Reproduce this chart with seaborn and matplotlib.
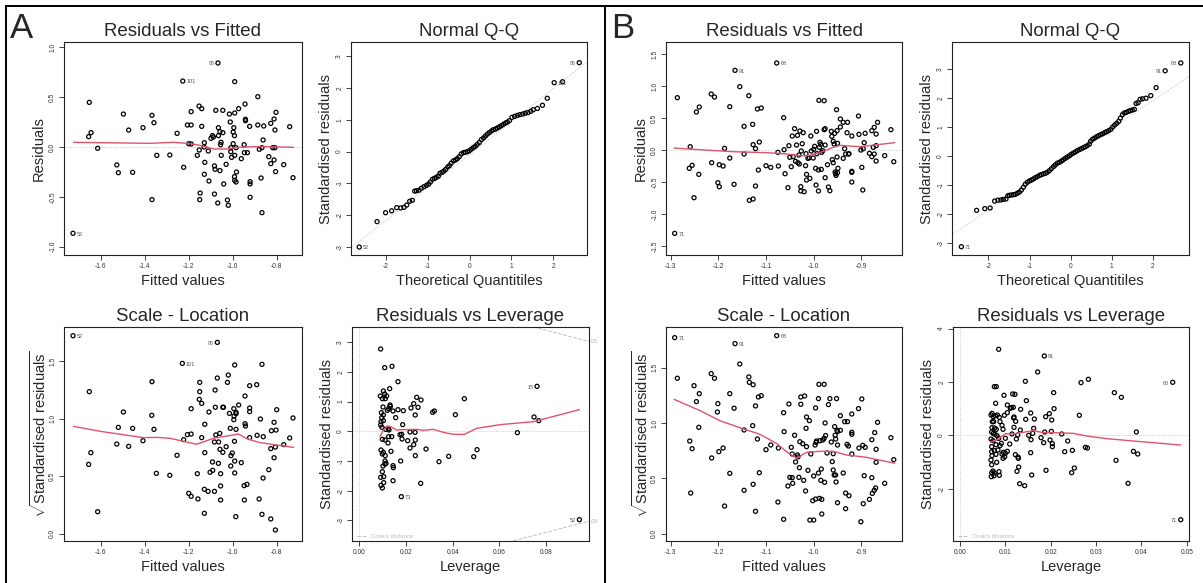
import matplotlib
matplotlib.use("Agg")
import matplotlib.pyplot as plt
import seaborn as sns
import pandas as pd
from matplotlib.lines import Line2D

# ---------------- Panel A ----------------
# Residuals vs Fitted (fitted, residual)
a_rvf = [(-1.726, -0.866), (-1.652, 0.448), (-1.655, 0.104), (-1.644, 0.144), (-1.614, -0.013),
         (-1.527, -0.18), (-1.52, -0.258), (-1.497, 0.331), (-1.473, 0.17), (-1.455, -0.254),
         (-1.408, 0.194), (-1.367, 0.318), (-1.358, 0.244), (-1.367, -0.528), (-1.345, -0.084),
         (-1.286, -0.08), (-1.253, 0.137), (-1.227, 0.662), (-1.223, -0.204), (-1.206, 0.221),
         (-1.189, 0.221), (-1.2, 0.033), (-1.189, 0.03), (-1.189, 0.355), (-1.153, 0.411),
         (-1.141, 0.385), (-1.141, 0.207), (-1.161, -0.084), (-1.152, -0.03), (-1.129, 0.043),
         (-1.13, 0.0), (-1.127, -0.154), (-1.129, -0.274), (-1.108, -0.341), (-1.111, -0.04),
         (-1.148, -0.462), (-1.15, -0.528), (-1.099, 0.087), (-1.092, 0.114), (-1.088, 0.1),
         (-1.083, -0.19), (-1.08, -0.224), (-1.083, -0.472), (-1.077, 0.368), (-1.067, 0.843),
         (-1.065, 0.194), (-1.065, 0.114), (-1.058, 0.154), (-1.053, 0.047), (-1.055, 0.023),
         (-1.058, -0.237), (-1.052, -0.084), (-1.068, -0.562), (-1.045, 0.368), (-1.045, 0.144),
         (-1.041, -0.371), (-1.03, -0.174), (-1.024, -0.532), (-1.02, -0.585), (-1.015, 0.331),
         (-1.011, 0.251), (-1.008, -0.007), (-1.009, -0.047), (-1.005, -0.104), (-0.998, 0.033),
         (-0.995, 0.194), (-0.998, 0.15), (-0.992, 0.114), (-0.991, 0.656), (-0.991, 0.341),
         (-0.991, -0.084), (-0.992, -0.298), (-0.991, -0.334), (-0.985, -0.351), (-0.985, -0.007),
         (-0.983, -0.251), (-0.973, 0.385), (-0.961, -0.117), (-0.944, 0.431), (-0.942, 0.278),
         (-0.942, 0.264), (-0.948, 0.023), (-0.947, -0.057), (-0.933, -0.057), (-0.923, 0.207),
         (-0.921, -0.348), (-0.921, -0.371), (-0.921, -0.505), (-0.886, 0.505), (-0.886, 0.221),
         (-0.879, -0.023), (-0.871, -0.311), (-0.867, -0.659), (-0.862, 0.07), (-0.859, 0.211),
         (-0.867, -0.007), (-0.836, -0.097), (-0.827, -0.167), (-0.827, 0.237), (-0.812, 0.281),
         (-0.812, -0.13), (-0.808, -0.007), (-0.818, -0.007), (-0.808, 0.171), (-0.803, 0.348),
         (-0.805, -0.247), (-0.768, -0.177), (-0.741, 0.204), (-0.726, -0.308)]
a_rvf_smooth = [(-1.724, 0.047), (-1.376, 0.037), (-1.27, 0.047), (-1.209, 0.037), (-1.148, 0.017),
                (-1.088, -0.02), (-1.027, -0.02), (-0.967, -0.003), (-0.906, 0.003), (-0.845, 0.003),
                (-0.724, -0.003)]
a_rvf_labels = [("52", -1.726, -0.866, "r"), ("101", -1.227, 0.662, "r"), ("95", -1.067, 0.843, "l")]

# Normal Q-Q (theoretical, standardised residual)
a_qq = [(-2.64, -3.0), (-2.215, -2.2), (-2.01, -1.92), (-1.865, -1.86), (-1.745, -1.76), (-1.65, -1.77),
        (-1.57, -1.75), (-1.506, -1.68), (-1.434, -1.56), (-1.37, -1.53), (-1.315, -1.24), (-1.27, -1.23),
        (-1.21, -1.21), (-1.155, -1.15), (-1.09, -1.10), (-1.035, -1.06), (-0.98, -1.02), (-0.94, -0.955),
        (-0.89, -0.87), (-0.845, -0.84), (-0.8, -0.81), (-0.75, -0.77), (-0.71, -0.68), (-0.66, -0.65),
        (-0.62, -0.61), (-0.575, -0.56), (-0.525, -0.48), (-0.485, -0.44), (-0.44, -0.36), (-0.39, -0.29),
        (-0.34, -0.26), (-0.295, -0.22), (-0.25, -0.16), (-0.2, -0.07), (-0.15, -0.03), (-0.105, -0.02),
        (-0.055, 0.0), (-0.01, 0.03), (0.04, 0.08), (0.09, 0.13), (0.135, 0.17), (0.18, 0.23), (0.23, 0.29),
        (0.28, 0.38), (0.33, 0.43), (0.375, 0.49), (0.42, 0.55), (0.47, 0.6), (0.52, 0.65), (0.565, 0.69),
        (0.615, 0.71), (0.66, 0.745), (0.71, 0.78), (0.76, 0.82), (0.805, 0.86), (0.855, 0.9), (0.9, 0.93),
        (0.95, 0.975), (1.01, 1.08), (1.075, 1.11), (1.14, 1.14), (1.2, 1.165), (1.27, 1.185), (1.33, 1.21),
        (1.395, 1.23), (1.46, 1.27), (1.52, 1.32), (1.62, 1.36), (1.74, 1.46), (1.855, 1.68), (2.02, 2.17),
        (2.22, 2.2), (2.62, 2.8)]
a_qq_line = [(-2.85, -3.04), (2.81, 2.83)]
a_qq_labels = [("52", -2.64, -3.0, "r"), ("101", 2.02, 2.17, "r"), ("95", 2.62, 2.8, "l")]

# Scale - Location (fitted, sqrt|std resid|)
a_sl = [(-1.726, 1.723), (-1.652, 1.236), (-1.655, 0.603), (-1.645, 0.705), (-1.614, 0.191), (-1.527, 0.78),
        (-1.52, 0.925), (-1.497, 1.059), (-1.473, 0.76), (-1.455, 0.917), (-1.408, 0.809), (-1.367, 1.323),
        (-1.368, 1.03), (-1.358, 0.908), (-1.347, 0.525), (-1.286, 0.508), (-1.253, 0.682), (-1.229, 1.482),
        (-1.223, 0.818), (-1.206, 0.862), (-1.189, 0.867), (-1.2, 0.351), (-1.189, 0.325), (-1.189, 1.088),
        (-1.15, 1.317), (-1.15, 1.236), (-1.152, 1.169), (-1.141, 1.134), (-1.141, 0.836), (-1.161, 0.522),
        (-1.158, 0.302), (-1.127, 0.952), (-1.127, 0.705), (-1.129, 0.386), (-1.129, 0.177), (-1.112, 0.368),
        (-1.108, 1.059), (-1.103, 0.534), (-1.092, 0.624), (-1.091, 0.551), (-1.083, 0.798), (-1.08, 1.25),
        (-1.083, 0.368), (-1.077, 0.859), (-1.079, 1.1), (-1.07, 1.665), (-1.07, 1.355), (-1.065, 0.612),
        (-1.064, 0.798), (-1.059, 0.873), (-1.058, 0.734), (-1.055, 0.522), (-1.055, 0.415), (-1.055, 0.293),
        (-1.045, 1.1), (-1.042, 1.1), (-1.045, 0.708), (-1.03, 0.757), (-1.024, 1.317), (-1.02, 1.381),
        (-1.015, 1.047), (-1.011, 0.917), (-1.008, 0.679), (-1.009, 0.589), (-1.002, 0.702), (-0.995, 1.088),
        (-0.995, 0.992), (-0.994, 1.024), (-0.992, 0.804), (-0.991, 1.468), (-0.991, 0.528), (-0.991, 0.632),
        (-0.985, 1.056), (-0.985, 1.044), (-0.985, 0.908), (-0.986, 0.148), (-0.973, 1.12), (-0.961, 0.618),
        (-0.944, 1.198), (-0.944, 0.957), (-0.942, 0.937), (-0.948, 0.418), (-0.935, 0.429), (-0.947, 0.293),
        (-0.923, 1.094), (-0.923, 1.062), (-0.923, 1.288), (-0.923, 0.836), (-0.891, 1.297), (-0.889, 0.856),
        (-0.88, 0.302), (-0.874, 0.998), (-0.867, 1.474), (-0.867, 0.168), (-0.861, 0.844), (-0.862, 0.484),
        (-0.836, 0.557), (-0.827, 0.74), (-0.827, 0.128), (-0.824, 0.896), (-0.812, 0.969), (-0.812, 0.661),
        (-0.806, 0.754), (-0.803, 0.902), (-0.8, 1.079), (-0.806, 0.032), (-0.768, 0.775), (-0.741, 0.833),
        (-0.726, 1.007)]
a_sl_smooth = [(-1.724, 0.934), (-1.603, 0.891), (-1.406, 0.836), (-1.345, 0.838), (-1.285, 0.83),
               (-1.164, 0.778), (-1.088, 0.83), (-0.974, 0.867), (-0.936, 0.827), (-0.876, 0.792),
               (-0.724, 0.751)]
a_sl_labels = [("52", -1.726, 1.723, "r"), ("101", -1.229, 1.482, "r"), ("95", -1.07, 1.665, "l")]

# Residuals vs Leverage (leverage, std resid)
a_rvl = [(0.00914, 2.775), (0.01086, 2.146), (0.014, 2.191), (0.01657, 1.674), (0.009, 1.191), (0.0103, 1.36),
         (0.01086, 1.258), (0.0117, 1.191), (0.00986, 1.101), (0.0111, 1.101), (0.013, 1.438), (0.01014, 0.82),
         (0.01257, 0.764), (0.01314, 0.888), (0.01329, 0.843), (0.01443, 0.685), (0.012, 0.708), (0.00943, 0.629),
         (0.0103, 0.551), (0.00957, 0.461), (0.00929, 0.326), (0.0103, 0.36), (0.00914, 0.213), (0.00971, 0.135),
         (0.01129, 0.067), (0.01243, 0.09), (0.01271, 0.045), (0.00986, -0.27), (0.011, -0.292), (0.01257, -0.18),
         (0.01386, -0.18), (0.01229, -0.393), (0.00929, -0.629), (0.0103, -0.708), (0.00986, -0.764),
         (0.0111, -0.82), (0.01357, -0.674), (0.011, -1.0), (0.011, -1.101), (0.01014, -1.169), (0.01143, -1.079),
         (0.01443, -1.157), (0.01457, -1.225), (0.00986, -1.36), (0.01043, -1.528), (0.00914, -1.551),
         (0.01043, -1.73), (0.00929, -1.82), (0.00986, -1.91), (0.01443, -1.663), (0.01557, 0.461),
         (0.01657, 0.73), (0.01886, 0.697), (0.01857, 0.225), (0.01814, -0.101), (0.01743, -0.112),
         (0.01829, -0.258), (0.01771, -1.0), (0.018, -2.202), (0.02071, -0.315), (0.02171, -0.022),
         (0.02171, -0.562), (0.02214, 0.787), (0.02329, 0.933), (0.02386, -0.034), (0.02329, -0.449),
         (0.02394, 0.551), (0.02457, 1.146), (0.02514, 0.809), (0.024, -0.292), (0.024, -0.82), (0.02643, 1.056),
         (0.02629, -1.753), (0.02857, -0.596), (0.03143, 0.64), (0.03214, 0.685), (0.03414, -1.022),
         (0.03829, -0.843), (0.04114, 0.562), (0.045, 1.101), (0.049, -0.854), (0.05043, -0.618),
         (0.06771, -0.045), (0.07486, 0.483), (0.07614, 1.517), (0.07686, 0.36), (0.09429, -2.978)]
a_rvl_smooth = [(0.00886, -0.18), (0.0103, 0.045), (0.012, 0.18), (0.0134, 0.157), (0.016, 0.045),
                (0.01886, 0.056), (0.02457, 0.067), (0.02743, 0.034), (0.03171, 0.067), (0.036, -0.034),
                (0.04029, -0.101), (0.045, -0.101), (0.05029, 0.101), (0.06029, 0.225), (0.07457, 0.326),
                (0.09429, 0.73)]
a_cook_upper = [(0.0745, 3.52), (0.0984, 3.03)]
a_cook_lower = [(0.066, -3.69), (0.0984, -3.03)]
a_rvl_labels = [("15", 0.07614, 1.517, "l"), ("73", 0.018, -2.202, "r"), ("52", 0.09429, -2.978, "l")]

# ---------------- Panel B ----------------
b_rvf = [(-1.2916, -1.297), (-1.286, 0.823), (-1.259, 0.057), (-1.261, -0.281), (-1.255, -0.234), (-1.251, -0.74),
         (-1.246, 0.599), (-1.24, 0.677), (-1.241, -0.375), (-1.215, 0.88), (-1.208, 0.833), (-1.214, -0.193),
         (-1.201, -0.505), (-1.198, -0.568), (-1.198, -0.224), (-1.19, -0.245), (-1.187, 0.031), (-1.176, 0.682),
         (-1.176, -0.12), (-1.167, -0.531), (-1.165, 1.25), (-1.155, 0.995), (-1.146, 0.375), (-1.146, -0.057),
         (-1.136, 0.854), (-1.135, -0.781), (-1.128, 0.406), (-1.127, -0.76), (-1.127, 0.089), (-1.122, 0.026),
         (-1.122, -0.557), (-1.118, 0.646), (-1.116, -0.307), (-1.114, 0.13), (-1.11, 0.661), (-1.1, -0.24),
         (-1.09, -0.266), (-1.0776, 1.365), (-1.075, -0.031), (-1.074, -0.245), (-1.063, 0.51), (-1.062, 0.01),
         (-1.06, -0.365), (-1.054, -0.583), (-1.052, 0.073), (-1.05, -0.109), (-1.047, -0.255), (-1.045, 0.224),
         (-1.043, -0.099), (-1.04, 0.339), (-1.038, -0.172), (-1.036, 0.083), (-1.034, 0.234), (-1.033, -0.193),
         (-1.031, -0.073), (-1.03, -0.214), (-1.029, 0.302), (-1.027, -0.568), (-1.027, -0.635), (-1.026, -0.01),
         (-1.024, 0.104), (-1.022, 0.276), (-1.02, -0.646), (-1.017, -0.24), (-1.016, -0.052), (-1.015, -0.375),
         (-1.015, -0.464), (-1.012, -0.125), (-1.009, -0.115), (-1.008, -0.438), (-1.006, 0.224), (-1.005, -0.01),
         (-1.001, -0.12), (-1.0, 0.016), (-0.998, 0.063), (-0.996, -0.281), (-0.995, -0.542), (-0.994, 0.297),
         (-0.993, -0.052), (-0.99, -0.307), (-0.99, -0.635), (-0.989, 0.781), (-0.988, 0.047), (-0.987, 0.125),
         (-0.985, 0.094), (-0.984, -0.297), (-0.983, -0.031), (-0.981, -0.005), (-0.978, 0.776), (-0.978, 0.323),
         (-0.976, 0.339), (-0.976, 0.083), (-0.976, -0.427), (-0.971, -0.224), (-0.969, -0.573), (-0.966, -0.63),
         (-0.963, 0.297), (-0.962, 0.219), (-0.961, -0.146), (-0.959, -0.193), (-0.959, 0.141), (-0.957, 0.099),
         (-0.956, 0.266), (-0.955, -0.339), (-0.954, -0.365), (-0.953, -0.391), (-0.952, 0.635), (-0.951, 0.307),
         (-0.951, -0.104), (-0.95, 0.109), (-0.95, -0.349), (-0.949, -0.281), (-0.944, 0.365), (-0.944, 0.49),
         (-0.938, -0.125), (-0.938, 0.438), (-0.935, 0.026), (-0.933, -0.057), (-0.93, 0.276), (-0.929, 0.438),
         (-0.927, -0.057), (-0.926, -0.052), (-0.92, 0.224), (-0.92, -0.328), (-0.92, -0.344), (-0.92, -0.495),
         (-0.906, 0.536), (-0.905, 0.25), (-0.901, 0.005), (-0.899, -0.266), (-0.897, -0.62), (-0.896, 0.026),
         (-0.894, 0.12), (-0.892, 0.266), (-0.883, -0.047), (-0.878, 0.307), (-0.878, -0.099), (-0.875, 0.047),
         (-0.873, -0.057), (-0.873, 0.359), (-0.869, 0.255), (-0.869, 0.073), (-0.869, -0.167), (-0.866, 0.438),
         (-0.851, -0.083), (-0.838, 0.323), (-0.832, -0.177)]
b_rvf_smooth = [(-1.293, 0.036), (-1.238, 0.01), (-1.169, -0.021), (-1.099, -0.036), (-1.057, -0.057),
                (-1.029, -0.083), (-1.011, -0.083), (-0.987, -0.036), (-0.959, 0.047), (-0.945, 0.078),
                (-0.903, 0.057), (-0.83, 0.12)]
b_rvf_labels = [("71", -1.2916, -1.297, "r"), ("91", -1.165, 1.25, "r"), ("68", -1.0776, 1.365, "r")]

b_qq = [(-2.66, -3.14), (-2.29, -1.88), (-2.09, -1.82), (-1.96, -1.8), (-1.85, -1.56), (-1.77, -1.53), (-1.70, -1.52),
        (-1.64, -1.5), (-1.575, -1.49), (-1.53, -1.38), (-1.49, -1.36), (-1.445, -1.35), (-1.395, -1.34),
        (-1.35, -1.33), (-1.30, -1.29), (-1.25, -1.25), (-1.2, -1.18), (-1.15, -1.08), (-1.105, -0.98),
        (-1.055, -0.91), (-1.005, -0.865), (-0.955, -0.83), (-0.91, -0.795), (-0.86, -0.75), (-0.81, -0.715),
        (-0.76, -0.67), (-0.715, -0.645), (-0.665, -0.62), (-0.615, -0.6), (-0.57, -0.565), (-0.52, -0.51),
        (-0.47, -0.44), (-0.42, -0.37), (-0.375, -0.31), (-0.325, -0.25), (-0.275, -0.22), (-0.225, -0.175),
        (-0.18, -0.13), (-0.13, -0.08), (-0.08, -0.035), (-0.03, 0.01), (0.015, 0.06), (0.065, 0.1),
        (0.115, 0.14), (0.16, 0.185), (0.21, 0.22), (0.26, 0.255), (0.31, 0.29), (0.355, 0.32), (0.405, 0.36),
        (0.455, 0.415), (0.485, 0.51), (0.535, 0.58), (0.585, 0.62), (0.635, 0.67), (0.68, 0.705), (0.73, 0.74),
        (0.78, 0.77), (0.83, 0.81), (0.875, 0.84), (0.925, 0.875), (0.975, 0.92), (1.02, 1.0), (1.07, 1.07),
        (1.12, 1.13), (1.17, 1.2), (1.21, 1.31), (1.26, 1.43), (1.305, 1.49), (1.355, 1.51), (1.405, 1.545),
        (1.45, 1.57), (1.5, 1.59), (1.55, 1.615), (1.59, 1.82), (1.64, 1.845), (1.69, 1.96), (1.75, 1.98),
        (1.835, 2.0), (1.95, 2.09), (2.08, 2.365), (2.3, 2.95), (2.68, 3.22)]
b_qq_line = [(-2.9, -2.73), (2.88, 2.75)]
b_qq_labels = [("71", -2.66, -3.14, "r"), ("91", 2.3, 2.95, "l"), ("68", 2.68, 3.22, "l")]

b_sl = [(-1.2916, 1.771), (-1.286, 1.404), (-1.26, 0.837), (-1.255, 0.768), (-1.258, 0.367), (-1.251, 1.337),
        (-1.246, 1.193), (-1.24, 1.265), (-1.241, 0.961), (-1.215, 1.446), (-1.208, 1.404), (-1.214, 0.684),
        (-1.201, 1.175), (-1.202, 1.099), (-1.199, 0.741), (-1.19, 0.774), (-1.187, 0.25), (-1.176, 1.265),
        (-1.176, 0.545), (-1.167, 1.133), (-1.165, 1.717), (-1.155, 1.533), (-1.146, 0.937), (-1.146, 0.392),
        (-1.136, 1.416), (-1.135, 1.367), (-1.128, 0.976), (-1.127, 1.346), (-1.127, 0.446), (-1.122, 0.202),
        (-1.122, 1.154), (-1.118, 0.855), (-1.116, 1.235), (-1.114, 0.551), (-1.11, 1.247), (-1.1, 0.759),
        (-1.09, 0.801), (-1.0776, 1.789), (-1.075, 0.286), (-1.074, 0.774), (-1.063, 1.093), (-1.063, 0.13),
        (-1.062, 0.922), (-1.054, 0.431), (-1.052, 1.172), (-1.05, 0.509), (-1.047, 0.78), (-1.045, 0.506),
        (-1.044, 0.455), (-1.045, 0.72), (-1.04, 0.889), (-1.038, 0.648), (-1.034, 0.711), (-1.033, 0.693),
        (-1.03, 0.596), (-1.031, 0.509), (-1.029, 0.831), (-1.027, 1.235), (-1.027, 1.169), (-1.023, 0.813),
        (-1.021, 0.482), (-1.019, 1.244), (-1.017, 0.386), (-1.016, 0.952), (-1.015, 0.786), (-1.015, 1.054),
        (-1.012, 0.572), (-1.009, 1.021), (-1.008, 0.123), (-1.006, 0.72), (-1.002, 0.298), (-1.0, 0.123),
        (-1.0, 0.521), (-0.997, 0.801), (-0.996, 1.136), (-0.996, 0.313), (-0.995, 0.825), (-0.994, 0.837),
        (-0.99, 1.22), (-0.99, 0.548), (-0.989, 1.349), (-0.988, 0.319), (-0.987, 0.84), (-0.985, 0.482),
        (-0.984, 0.584), (-0.983, 0.31), (-0.983, 0.178), (-0.981, 0.846), (-0.978, 1.349), (-0.978, 0.861),
        (-0.977, 0.464), (-0.976, 1.0), (-0.975, 0.886), (-0.972, 0.729), (-0.969, 1.166), (-0.966, 1.22),
        (-0.963, 0.828), (-0.961, 0.651), (-0.959, 0.723), (-0.959, 0.575), (-0.957, 0.53), (-0.956, 0.967),
        (-0.955, 0.889), (-0.954, 0.855), (-0.954, 0.53), (-0.953, 0.467), (-0.952, 1.22), (-0.951, 0.934),
        (-0.95, 0.28), (-0.95, 0.801), (-0.95, 0.922), (-0.944, 1.066), (-0.944, 0.934), (-0.938, 0.548),
        (-0.935, 1.012), (-0.933, 0.367), (-0.933, 0.226), (-0.93, 0.807), (-0.929, 1.012), (-0.927, 0.792),
        (-0.926, 0.343), (-0.92, 1.081), (-0.92, 0.916), (-0.92, 0.898), (-0.92, 0.72), (-0.906, 1.13),
        (-0.905, 0.774), (-0.901, 0.108), (-0.899, 1.217), (-0.897, 0.798), (-0.896, 0.271), (-0.894, 0.524),
        (-0.892, 0.78), (-0.883, 0.31), (-0.878, 0.849), (-0.878, 0.506), (-0.877, 0.364), (-0.873, 0.392),
        (-0.872, 0.913), (-0.87, 0.413), (-0.869, 0.762), (-0.869, 0.645), (-0.866, 1.006), (-0.851, 0.455),
        (-0.838, 0.867), (-0.832, 0.669)]
b_sl_smooth = [(-1.293, 1.214), (-1.238, 1.111), (-1.197, 1.021), (-1.155, 0.958), (-1.113, 0.898),
               (-1.078, 0.816), (-1.057, 0.741), (-1.036, 0.681), (-1.015, 0.735), (-0.987, 0.744),
               (-0.959, 0.744), (-0.931, 0.711), (-0.889, 0.69), (-0.83, 0.636)]
b_sl_labels = [("71", -1.2916, 1.771, "r"), ("91", -1.165, 1.717, "r"), ("68", -1.0776, 1.789, "r")]

b_rvl = [(0.00853, 3.225), (0.00801, 1.825), (0.00757, 1.825), (0.00787, 1.2), (0.00684, 0.7625), (0.00706, 0.825),
         (0.00735, 0.7), (0.00779, 0.7375), (0.00824, 0.7625), (0.00868, 0.675), (0.00713, 0.5125),
         (0.00743, 0.5125), (0.00882, 0.5125), (0.00706, 0.2875), (0.00765, 0.275), (0.00801, 0.225),
         (0.00926, 0.375), (0.00949, 0.225), (0.00699, 0.125), (0.00735, 0.075), (0.00772, 0.0375),
         (0.00816, -0.0125), (0.00853, -0.1125), (0.00684, -0.1375), (0.00728, -0.2), (0.00794, -0.35),
         (0.00699, -0.425), (0.00882, -0.3875), (0.00912, -0.3), (0.00757, -0.575), (0.00838, -0.55),
         (0.00699, -0.6125), (0.00794, -0.7125), (0.00706, -0.7625), (0.00956, -0.6375), (0.00926, -0.7),
         (0.01, -0.675), (0.01044, -0.6), (0.00949, -0.8625), (0.00985, -0.8), (0.00684, -0.925), (0.00809, -1.0125),
         (0.00699, -1.1), (0.00728, -1.3375), (0.00699, -1.4), (0.00757, -1.4125), (0.00691, -1.55),
         (0.0075, -1.5125), (0.0086, -1.3625), (0.00868, -1.5), (0.00971, 1.5), (0.01044, 1.1375),
         (0.01132, 1.0375), (0.01176, 1.05), (0.0111, 1.0125), (0.01044, 0.85), (0.00978, 0.75), (0.01, -0.1125),
         (0.01096, -0.325), (0.01184, 0.65), (0.01191, 0.6875), (0.01228, 0.525), (0.01162, 1.55),
         (0.01213, 1.5375), (0.01191, 0.3), (0.01243, -0.1375), (0.01147, 0.05), (0.01221, -0.725),
         (0.01279, -0.8125), (0.01287, -0.8625), (0.01257, -1.35), (0.01294, -1.1875), (0.01272, 0.0125),
         (0.01331, 0.2), (0.01338, 0.975), (0.01316, -1.8125), (0.01426, -1.8875), (0.01441, 2.025), (0.01463, 1.3),
         (0.01449, 0.6), (0.01515, 0.0), (0.01559, 0.8375), (0.01566, -0.1625), (0.01559, -0.65),
         (0.01581, -1.4875), (0.01603, 0.075), (0.01625, 0.2625), (0.0164, 0.6125), (0.01713, 2.375),
         (0.01787, -0.0875), (0.01846, -0.275), (0.0186, 2.975), (0.01868, 0.125), (0.0189, 0.7),
         (0.01897, -1.3125), (0.01971, 0.8125), (0.01985, -0.175), (0.02015, 0.15), (0.02022, 0.575),
         (0.02037, -0.3125), (0.02037, -0.425), (0.02066, 1.6), (0.02074, 1.0), (0.02243, 0.05), (0.02309, -0.6125),
         (0.02375, -0.2125), (0.02463, -1.4), (0.02478, -0.5625), (0.02522, -1.225), (0.02632, 0.75),
         (0.02669, 1.975), (0.02765, -0.45), (0.02809, -0.475), (0.02831, 2.1), (0.03404, 1.6), (0.03441, -0.9375),
         (0.03559, 1.425), (0.03706, -1.8), (0.03824, -0.6), (0.0389, 0.125), (0.03919, -0.7), (0.04691, 1.9875),
         (0.04868, -3.1625)]
b_rvl_smooth = [(0.00676, -0.2625), (0.00809, -0.175), (0.01, 0.0625), (0.01176, 0.05), (0.01397, 0.1125),
                (0.01618, 0.175), (0.01838, 0.1), (0.02059, 0.1), (0.025, 0.075), (0.02794, -0.025),
                (0.03235, -0.125), (0.03824, -0.2125), (0.04868, -0.3625)]
b_rvl_labels = [("91", 0.0186, 2.975, "r"), ("60", 0.04691, 1.9875, "l"), ("71", 0.04868, -3.1625, "l")]

# tick values / labels
fit_ticks_a = [-1.6, -1.4, -1.2, -1.0, -0.8]
fit_ticks_b = [-1.3, -1.2, -1.1, -1.0, -0.9]
res_ticks_a = [-1.0, -0.5, 0.0, 0.5, 1.0]
res_ticks_b = [-1.5, -1.0, -0.5, 0.0, 0.5, 1.0, 1.5]
qq_xticks = [-2, -1, 0, 1, 2]
qq_yticks = [-3, -2, -1, 0, 1, 2, 3]
sl_yticks = [0.0, 0.5, 1.0, 1.5]
lev_ticks_a = [0.00, 0.02, 0.04, 0.06, 0.08]
lev_ticks_b = [0.00, 0.01, 0.02, 0.03, 0.04, 0.05]
rvl_yticks_a = [-3, -2, -1, 0, 1, 2, 3]
rvl_yticks_b = [-2, 0, 2, 4]

# ---------------- style ----------------
sns.set_style("ticks")
plt.rcParams["font.family"] = ["Liberation Sans", "DejaVu Sans"]
plt.rcParams["mathtext.fontset"] = "custom"
plt.rcParams["mathtext.rm"] = "Liberation Sans"
plt.rcParams["axes.unicode_minus"] = False

RED = "#DF536B"
GREY = "#BEBEBE"
W, H = 1203, 583

fig = plt.figure(figsize=(12.03, 5.83), dpi=100)


def add_ax(left, right, top, bottom):
    return fig.add_axes([left / W, 1 - bottom / H, (right - left) / W, (bottom - top) / H])


def fmt(v, nd):
    return f"{v:.{nd}f}"


def setup(ax, title, xlabel, ylabel, xt, xd, yt, yd, xlim, ylim):
    ax.set_xlim(xlim)
    ax.set_ylim(ylim)
    ax.set_xticks(xt)
    ax.set_xticklabels([fmt(v, xd) for v in xt])
    ax.set_yticks(yt)
    ax.set_yticklabels([fmt(v, yd) for v in yt], rotation=90, va="center")
    ax.tick_params(length=3.6, width=0.6, labelsize=4.8, labelcolor="#333333", pad=2, color="#222222")
    for s in ax.spines.values():
        s.set_visible(True)
        s.set_linewidth(0.8)
        s.set_color("#222222")
    ax.set_title(title, fontsize=13.4, pad=4.2)
    ax.set_xlabel("")
    ax.set_ylabel("")
    ax.text(0.5, -0.14, xlabel, transform=ax.transAxes, ha="center", va="baseline", fontsize=10.5)
    ax.text(-0.105, 0.5, ylabel, transform=ax.transAxes, ha="center", va="center",
            rotation=90, fontsize=10.5)


def points(ax, pairs):
    df = pd.DataFrame(pairs, columns=["x", "y"])
    sns.scatterplot(data=df, x="x", y="y", ax=ax, marker="o", s=8.5, facecolor="none",
                    edgecolor="black", linewidth=0.9, zorder=3)


def smooth(ax, pairs):
    df = pd.DataFrame(pairs, columns=["x", "y"])
    sns.lineplot(data=df, x="x", y="y", ax=ax, color=RED, linewidth=1.0, estimator=None, sort=False, zorder=4)


def refline(ax, pairs, ls=":"):
    df = pd.DataFrame(pairs, columns=["x", "y"])
    sns.lineplot(data=df, x="x", y="y", ax=ax, color=GREY, linewidth=0.7, linestyle=ls,
                 estimator=None, sort=False, zorder=1)


def labels(ax, labs):
    for txt, x, y, side in labs:
        off = 2.6 if side == "r" else -2.6
        ax.annotate(txt, (x, y), xytext=(off, -0.6), textcoords="offset points",
                    ha="left" if side == "r" else "right", va="center",
                    fontsize=4.0, color="#555555")


def cook_legend(ax):
    ax.plot([0.02, 0.065], [0.022, 0.022], transform=ax.transAxes, color=GREY, lw=0.7, ls="--")
    ax.text(0.08, 0.022, "Cook's distance", transform=ax.transAxes, fontsize=4.3,
            color="#BBBBBB", va="center", ha="left")


sqrt_label = r"$\sqrt{\mathrm{Standardised\ residuals}}$"

# ---------- A: Residuals vs Fitted ----------
ax = add_ax(64, 302, 42, 255)
ax.axhline(0, color=GREY, lw=0.6, ls=":", zorder=1)
points(ax, a_rvf)
smooth(ax, a_rvf_smooth)
labels(ax, a_rvf_labels)
setup(ax, "Residuals vs Fitted", "Fitted values", "Residuals",
      fit_ticks_a, 1, res_ticks_a, 1, (-1.767, -0.685), (-1.084, 1.054))

# ---------- A: Normal Q-Q ----------
ax = add_ax(351, 587, 42, 255)
refline(ax, a_qq_line)
points(ax, a_qq)
labels(ax, a_qq_labels)
setup(ax, "Normal Q-Q", "Theoretical Quantitiles", "Standardised residuals",
      qq_xticks, 0, qq_yticks, 0, (-2.837, 2.805), (-3.25, 3.45))

# ---------- A: Scale - Location ----------
ax = add_ax(64, 302, 327, 541)
points(ax, a_sl)
smooth(ax, a_sl_smooth)
labels(ax, a_sl_labels)
setup(ax, "Scale - Location", "Fitted values", sqrt_label,
      fit_ticks_a, 1, sl_yticks, 1, (-1.767, -0.685), (-0.064, 1.799))

# ---------- A: Residuals vs Leverage ----------
ax = add_ax(352, 589, 327, 541)
ax.axhline(0, color=GREY, lw=0.6, ls=":", zorder=1)
ax.axvline(0, color=GREY, lw=0.6, ls=":", zorder=1)
refline(ax, a_cook_upper, ls="--")
refline(ax, a_cook_lower, ls="--")
points(ax, a_rvl)
smooth(ax, a_rvl_smooth)
labels(ax, a_rvl_labels)
cook_legend(ax)
for yv in (3.03, -3.03):
    ax.text(1.008, yv, "0.5", transform=ax.get_yaxis_transform(), fontsize=3.6, color="#AAAAAA",
            va="center", ha="left")
setup(ax, "Residuals vs Leverage", "Leverage", "Standardised residuals",
      lev_ticks_a, 2, rvl_yticks_a, 0, (-0.00314, 0.0984), (-3.697, 3.517))

# ---------- B: Residuals vs Fitted ----------
ax = add_ax(666, 902, 42, 255)
ax.axhline(0, color=GREY, lw=0.6, ls=":", zorder=1)
points(ax, b_rvf)
smooth(ax, b_rvf_smooth)
labels(ax, b_rvf_labels)
setup(ax, "Residuals vs Fitted", "Fitted values", "Residuals",
      fit_ticks_b, 1, res_ticks_b, 1, (-1.3098, -0.8147), (-1.635, 1.693))

# ---------- B: Normal Q-Q ----------
ax = add_ax(952, 1189, 42, 255)
refline(ax, b_qq_line)
points(ax, b_qq)
labels(ax, b_qq_labels)
setup(ax, "Normal Q-Q", "Theoretical Quantitiles", "Standardised residuals",
      qq_xticks, 0, qq_yticks, 0, (-2.888, 2.88), (-3.426, 3.945))

# ---------- B: Scale - Location ----------
ax = add_ax(666, 902, 327, 541)
points(ax, b_sl)
smooth(ax, b_sl_smooth)
labels(ax, b_sl_labels)
setup(ax, "Scale - Location", "Fitted values", sqrt_label,
      fit_ticks_b, 1, sl_yticks, 1, (-1.3098, -0.8147), (-0.066, 1.867))

# ---------- B: Residuals vs Leverage ----------
ax = add_ax(953, 1189, 327, 541)
ax.axhline(0, color=GREY, lw=0.6, ls=":", zorder=1)
ax.axvline(0, color=GREY, lw=0.6, ls=":", zorder=1)
points(ax, b_rvl)
smooth(ax, b_rvl_smooth)
labels(ax, b_rvl_labels)
cook_legend(ax)
setup(ax, "Residuals vs Leverage", "Leverage", "Standardised residuals",
      lev_ticks_b, 2, rvl_yticks_b, 0, (-0.00154, 0.0505), (-3.96, 4.06))

# panel frames and letters
fig.add_artist(Line2D([6 / W, 1], [1 - 6 / H, 1 - 6 / H], transform=fig.transFigure, color="black", lw=1.4))
fig.add_artist(Line2D([6 / W, 6 / W], [0, 1 - 6 / H], transform=fig.transFigure, color="black", lw=1.4))
fig.add_artist(Line2D([605 / W, 605 / W], [0, 1 - 6 / H], transform=fig.transFigure, color="black", lw=1.4))
fig.text(10 / W, 1 - 37.5 / H, "A", fontsize=25, va="baseline", ha="left")
fig.text(611 / W, 1 - 37.5 / H, "B", fontsize=25, va="baseline", ha="left")

fig.savefig("out.png", dpi=100)
